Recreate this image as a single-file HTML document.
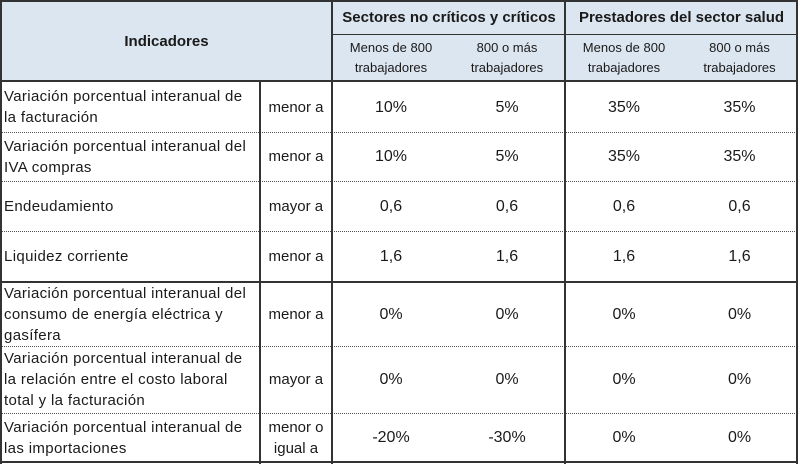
<!DOCTYPE html>
<html><head><meta charset="utf-8"><style>
body{margin:0;width:800px;height:464px;background:#fff;position:relative;overflow:hidden;font-family:"Liberation Sans",sans-serif;color:#1a1a1a}
.c{position:absolute;display:flex;align-items:center;box-sizing:border-box;font-size:15px;line-height:21px}
.ind{letter-spacing:0.35px}
.ctr{justify-content:center;text-align:center}
.val{font-size:16px}
.h{background:#dce6f1;font-weight:bold;font-size:15px}
.sub{font-size:13px;line-height:20px}
.l{position:absolute;background:#333}
.d{position:absolute;height:0;border-top:1px dotted #555}
</style></head><body>
<div class="c h ctr" style="left:1px;top:1px;width:331px;height:80px">Indicadores</div>
<div class="c h ctr" style="left:333px;top:1px;width:232px;height:33px">Sectores no críticos y críticos</div>
<div class="c h ctr" style="left:566px;top:1px;width:231px;height:33px">Prestadores del sector salud</div>
<div class="c h ctr sub" style="left:333px;top:35px;width:116px;height:46px;font-weight:normal">Menos de 800<br>trabajadores</div>
<div class="c h ctr sub" style="left:449px;top:35px;width:116px;height:46px;font-weight:normal">800 o más<br>trabajadores</div>
<div class="c h ctr sub" style="left:566px;top:35px;width:116px;height:46px;font-weight:normal">Menos de 800<br>trabajadores</div>
<div class="c h ctr sub" style="left:682px;top:35px;width:115px;height:46px;font-weight:normal">800 o más<br>trabajadores</div>
<div id="rows"></div>
<div class="l" style="left:0;top:0;width:798px;height:2px"></div>
<div class="l" style="left:0;top:0;width:2px;height:464px"></div>
<div class="l" style="left:796px;top:0;width:2px;height:464px"></div>
<div class="l" style="left:0;top:80px;width:798px;height:2px"></div>
<div class="l" style="left:332px;top:34px;width:465px;height:1px"></div>
<div class="l" style="left:331px;top:0;width:2px;height:464px"></div>
<div class="l" style="left:564px;top:0;width:2px;height:464px"></div>
<div class="l" style="left:259px;top:81px;width:2px;height:383px"></div>
<div class="l" style="left:0;top:281px;width:798px;height:2px"></div>
<div class="l" style="left:0;top:461px;width:798px;height:2px"></div>
<script>
var tops=[82,132,181,231,282,346,413,462];
var ind=["Variación porcentual interanual de<br>la facturación","Variación porcentual interanual del<br>IVA compras","Endeudamiento","Liquidez corriente","Variación porcentual interanual del<br>consumo de energía eléctrica y<br>gasífera","Variación porcentual interanual de<br>la relación entre el costo laboral<br>total y la facturación","Variación porcentual interanual de<br>las importaciones"];
var cond=["menor a","menor a","mayor a","menor a","menor a","mayor a","menor o<br>igual a"];
var v1=["10%","10%","0,6","1,6","0%","0%","-20%"];
var v2=["5%","5%","0,6","1,6","0%","0%","-30%"];
var v3=["35%","35%","0,6","1,6","0%","0%","0%"];
var v4=["35%","35%","0,6","1,6","0%","0%","0%"];
var R=document.getElementById('rows');
function cell(x,w,y,h,html,cls,name){var d=document.createElement('div');d.className='c '+cls;d.style.cssText='left:'+x+'px;top:'+y+'px;width:'+w+'px;height:'+h+'px';d.innerHTML=html;


R.appendChild(d);}
for(var i=0;i<7;i++){var y=tops[i],h=tops[i+1]-y;
cell(4,258,y,h,ind[i],'ind','indicator-'+i);
cell(261,70,y,h,cond[i],'ctr','condition-'+i);
cell(333,116,y,h,v1[i],'ctr val','value-a-'+i);
cell(449,116,y,h,v2[i],'ctr val','value-b-'+i);
cell(566,116,y,h,v3[i],'ctr val','value-c-'+i);
cell(682,115,y,h,v4[i],'ctr val','value-d-'+i);
if(i>0&&i!=4){var l=document.createElement('div');l.className='d';l.style.cssText='left:0;top:'+y+'px;width:797px';


R.appendChild(l);}}
</script>
</body></html>
